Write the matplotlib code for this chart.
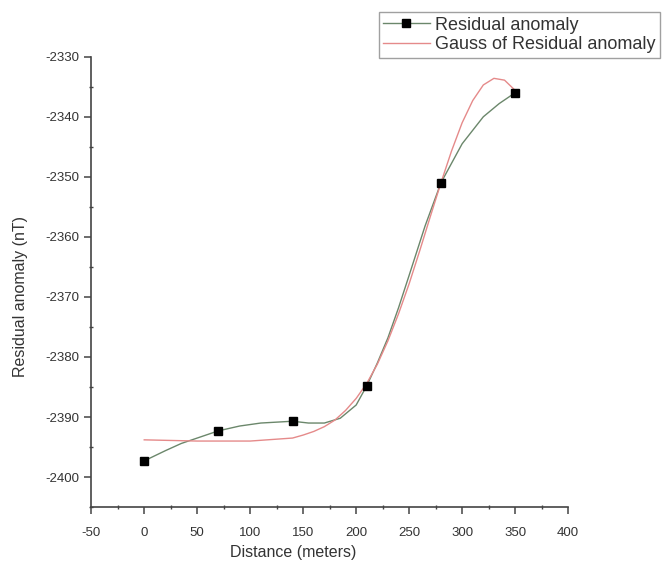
import numpy as np
import matplotlib
matplotlib.use('Agg')
import matplotlib.pyplot as plt
from matplotlib.ticker import MultipleLocator

plt.rcParams['font.family'] = ['Liberation Sans', 'DejaVu Sans']
plt.rcParams['axes.unicode_minus'] = False

# measured points
dist = [0, 70, 140, 210, 280, 350]
resid = [-2397.3, -2392.3, -2390.7, -2384.8, -2351.0, -2336.0]

# smooth line through the points
spl_x = [0, 20, 35, 50, 70, 90, 110, 140, 155, 170, 185, 200, 210,
         220, 230, 240, 250, 265, 280, 300, 320, 335, 350]
spl_y = [-2397.3, -2395.6, -2394.4, -2393.5, -2392.3, -2391.5, -2391.0,
         -2390.7, -2391.0, -2391.0, -2390.2, -2388.0, -2384.8,
         -2381.0, -2376.8, -2371.8, -2366.4, -2358.2, -2351.0,
         -2344.5, -2340.0, -2337.8, -2336.0]

# Gauss fit curve
gauss_x = [0, 50, 100, 140, 150, 160, 170, 180, 190, 200, 210, 220, 230,
           240, 250, 260, 270, 280, 290, 300, 310, 320, 330, 340, 350]
gauss_y = [-2393.8, -2394.0, -2394.0, -2393.5, -2393.0, -2392.4, -2391.6,
           -2390.5, -2388.9, -2386.9, -2384.4, -2381.2, -2377.3, -2372.8,
           -2367.8, -2362.3, -2356.6, -2351.0, -2345.7, -2341.0, -2337.3,
           -2334.7, -2333.6, -2333.9, -2335.6]

fig = plt.figure(figsize=(6.66, 5.73), dpi=100)
ax = fig.add_axes([0.137, 0.115, 0.716, 0.786])

ax.plot(spl_x, spl_y, color='#6b876b', lw=1.0, zorder=2)
ax.plot(dist, resid, ls='none', marker='s', ms=6, color='black', zorder=4)
ax.plot(gauss_x, gauss_y, color='#e58a8a', lw=1.0, zorder=3)

ax.set_xlim(-50, 400)
ax.set_ylim(-2405, -2330)
ax.xaxis.set_major_locator(MultipleLocator(50))
ax.xaxis.set_minor_locator(MultipleLocator(25))
ax.yaxis.set_major_locator(MultipleLocator(10))
ax.yaxis.set_minor_locator(MultipleLocator(5))

for s in ['top', 'right']:
    ax.spines[s].set_visible(False)
for s in ['left', 'bottom']:
    ax.spines[s].set_color('#444444')
    ax.spines[s].set_linewidth(1.2)

ax.tick_params(which='major', direction='out', length=5, width=1.1,
               color='#444444', labelsize=9.5, labelcolor='#333333')
ax.tick_params(axis='x', which='major', pad=9)
ax.tick_params(which='minor', direction='inout', length=3, width=1.0,
               color='#444444')

ax.set_xlabel('Distance (meters)', fontsize=11.5, color='#333333', labelpad=6)
ax.xaxis.set_label_coords(0.424, -0.085)
ax.set_ylabel('Residual anomaly (nT)', fontsize=11.5, color='#333333')
ax.yaxis.set_label_coords(-0.132, 0.467)

# legend drawn with proxy handles
h1, = ax.plot([], [], color='#6b876b', lw=1.0, marker='s', ms=6,
              mfc='black', mec='black')
h2, = ax.plot([], [], color='#e58a8a', lw=1.0)
leg = fig.legend([h1, h2], ['Residual anomaly', 'Gauss of Residual anomaly'],
                 loc='upper right', bbox_to_anchor=(0.997, 0.985),
                 fontsize=13, frameon=True, fancybox=False,
                 handlelength=2.6, borderpad=0.25, labelspacing=0.15,
                 handletextpad=0.3, borderaxespad=0.2)
leg.get_frame().set_edgecolor('#888888')
leg.get_frame().set_linewidth(1.0)
for t in leg.get_texts():
    t.set_color('#333333')

fig.savefig('out.png', dpi=100)
